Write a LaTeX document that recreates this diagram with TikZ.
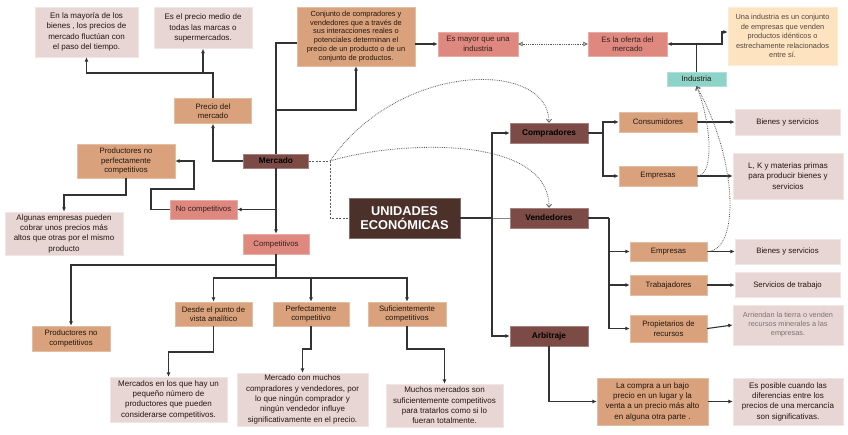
\documentclass[tikz,border=0pt]{standalone}
\usepackage{fontspec}
\setmainfont{Liberation Sans}
\usetikzlibrary{arrows.meta,calc}
\definecolor{cTan}{HTML}{D9A27C}
\definecolor{cPink}{HTML}{E8D6D4}
\definecolor{cSalmon}{HTML}{DE8880}
\definecolor{cDark}{HTML}{7D4B45}
\definecolor{cUE}{HTML}{4B3129}
\definecolor{cTeal}{HTML}{8ED3C7}
\definecolor{cPeach}{HTML}{FEE3C1}
\definecolor{cLine}{HTML}{333333}
\definecolor{cText}{HTML}{22160F}
\tikzset{
  box/.style={rectangle, inner sep=1pt, align=center, text=cText, font=\fontsize{7.8}{9.5}\selectfont},
  tanb/.style={box, fill=cTan, draw=cTan!70!white},
  pinkb/.style={box, fill=cPink, draw=cPink!60!white},
  salb/.style={box, fill=cSalmon, draw=cSalmon!70!white, text=cText!80!cDark},
  darkb/.style={box, fill=cDark, draw=cDark!70!white, text=black, font=\fontsize{8.3}{9}\selectfont\bfseries},
  big/.style={font=\fontsize{8}{10.3}\selectfont},
  conn/.style={draw=cLine, line width=1.1pt, -{Latex[length=4.5pt,width=4pt]}},
  lin/.style={draw=cLine, line width=1.1pt},
  dotc/.style={draw=cLine!80, densely dotted, line width=0.8pt},
  dashc/.style={draw=cLine!80, dash pattern=on 2pt off 1.5pt, line width=0.9pt},
}
\begin{document}
\begin{tikzpicture}[x=1pt,y=-1pt]
\useasboundingbox (0,0) rectangle (848,435);
\fill[white] (0,0) rectangle (848,435);

% ---------- top left ----------
\node[pinkb, minimum width=103pt, minimum height=50pt, big] (b1) at (86.5,32) {En la mayoría de los\\bienes , los precios de\\mercado fluctúan con\\el paso del tiempo.};
\node[pinkb, minimum width=98pt, minimum height=41pt, big] (b2) at (203,28) {Es el precio medio de\\todas las marcas o\\supermercados.};
\node[tanb, minimum width=77pt, minimum height=25pt] (pm) at (213,111) {Precio del\\mercado};
\node[tanb, minimum width=118pt, minimum height=59pt, font=\fontsize{7.4}{8.9}\selectfont] (cj) at (356,36.5) {Conjunto de compradores y\\vendedores que a través de\\sus interacciones reales o\\potenciales determinan el\\precio de un producto o de un\\conjunto de productos.};
\node[salb, minimum width=80pt, minimum height=24pt] (em) at (478,44) {Es mayor que una\\industria};
\node[salb, minimum width=79pt, minimum height=24pt] (eo) at (627.5,44) {Es la oferta del\\mercado};
\node[box, fill=cTeal, draw=cTeal!70!white, minimum width=59pt, minimum height=14pt] (ind) at (696.5,79) {Industria};
\node[box, fill=cPeach, draw=cPeach!70!white, minimum width=109pt, minimum height=58pt, text=cText!80, font=\fontsize{7.4}{9.5}\selectfont] (ua) at (782.5,36) {Una industria es un conjunto\\de empresas que venden\\productos idénticos o\\estrechamente relacionados\\entre sí.};

% ---------- middle ----------
\node[darkb, minimum width=65pt, minimum height=14pt] (me) at (276,161) {Mercado};
\node[tanb, minimum width=98pt, minimum height=34pt] (pnp) at (126,161) {Productores no\\perfectamente\\competitivos};
\node[salb, minimum width=67pt, minimum height=19pt] (nc) at (203.5,209.5) {No competitivos};
\node[pinkb, minimum width=118pt, minimum height=43pt, big] (alg) at (64,233.5) {Algunas empresas pueden\\cobrar unos precios más\\altos que otras por el mismo\\producto};
\node[salb, minimum width=66pt, minimum height=20pt] (comp) at (276,244) {Competitivos};
\node[box, fill=cUE, draw=cUE!70!white, minimum width=111pt, minimum height=40pt, text=white, font=\fontsize{12.8}{14.5}\selectfont\bfseries] (ue) at (404.5,218) {UNIDADES\\ECONÓMICAS};

% ---------- right ----------
\node[darkb, minimum width=78pt, minimum height=20pt] (co) at (549,133) {Compradores};
\node[darkb, minimum width=78pt, minimum height=20pt] (ve) at (549,218) {Vendedores};
\node[darkb, minimum width=78pt, minimum height=20pt] (ar) at (549,336) {Arbitraje};
\node[tanb, minimum width=78pt, minimum height=20pt] (cons) at (658,122) {Consumidores};
\node[tanb, minimum width=78pt, minimum height=20pt] (emp1) at (658,176) {Empresas};
\node[pinkb, minimum width=105pt, minimum height=26pt] (bys1) at (787.5,122) {Bienes y servicios};
\node[pinkb, minimum width=110pt, minimum height=46pt, big] (lk) at (788,176) {L, K y materias primas\\para producir bienes y\\servicios};
\node[tanb, minimum width=77pt, minimum height=19pt] (emp2) at (668.5,251.5) {Empresas};
\node[pinkb, minimum width=105pt, minimum height=25pt] (bys2) at (787.5,251.5) {Bienes y servicios};
\node[tanb, minimum width=77pt, minimum height=20pt] (tra) at (668.5,285) {Trabajadores};
\node[pinkb, minimum width=105pt, minimum height=25pt] (st) at (787.5,285) {Servicios de trabajo};
\node[tanb, minimum width=77pt, minimum height=27pt] (pro) at (668.5,328.5) {Propietarios de\\recursos};
\node[pinkb, minimum width=110pt, minimum height=40pt, text=cText!60, font=\fontsize{7.3}{9}\selectfont] (arr) at (788,325) {Arriendan la tierra o venden\\recursos minerales a las\\empresas.};
\node[tanb, minimum width=111pt, minimum height=47pt, big] (lc) at (652.5,401.5) {La compra a un bajo\\precio en un lugar y la\\venta a un precio más alto\\en alguna otra parte .};
\node[pinkb, minimum width=110pt, minimum height=47pt, big] (ep) at (788,401.5) {Es posible cuando las\\diferencias entre los\\precios de una mercancía\\son significativas.};

% ---------- bottom left ----------
\node[tanb, minimum width=78pt, minimum height=25pt] (pnc) at (71,338.5) {Productores no\\competitivos};
\node[tanb, minimum width=77pt, minimum height=24pt] (desde) at (213.5,314) {Desde el punto de\\vista analítico};
\node[tanb, minimum width=76pt, minimum height=24pt] (perf) at (311,314) {Perfectamente\\competitivo};
\node[tanb, minimum width=78pt, minimum height=24pt] (suf) at (407,314) {Suficientemente\\competitivos};
\node[pinkb, minimum width=117pt, minimum height=45pt, big] (mer1) at (168.5,399.5) {Mercados en los que hay un\\pequeño número de\\productores que pueden\\considerarse competitivos.};
\node[pinkb, minimum width=131pt, minimum height=53pt, big] (mer2) at (302.5,399.5) {Mercado con muchos\\compradores y vendedores, por\\lo que ningún comprador y\\ningún vendedor influye\\significativamente en el precio.};
\node[pinkb, minimum width=117pt, minimum height=43pt, big] (mer3) at (444.5,405.5) {Muchos mercados son\\suficientemente competitivos\\para tratarlos como si lo\\fueran totalmente.};

% ---------- junction coordinates ----------
\coordinate (j1) at (213,73);
\coordinate (j2) at (203,73);
\coordinate (j3) at (276,43);
\coordinate (j4) at (276,110);
\coordinate (j5) at (696.5,44);
\coordinate (j6) at (722,32);
\coordinate (j7) at (330,161);
\coordinate (j8) at (492,218);
\coordinate (j9) at (603,133);
\coordinate (j10) at (609,218);
\coordinate (j11) at (276,209.5);
\coordinate (j12) at (151,209.5);
\coordinate (j13) at (194,189);
\coordinate (j14) at (126,195);
\coordinate (j15) at (276,265);
\coordinate (j16) at (276,278);
\coordinate (j17) at (311,278);
\coordinate (j18) at (213.5,352);
\coordinate (j19) at (311,349);
\coordinate (j20) at (407,349);

% ---------- connectors ----------
\draw[conn] (pm.north) -- (j1) -| (b1.south);
\draw[conn] (j2) -- (b2.south);
\draw[conn] (me.west) -| (pm.south);
\draw[lin] (me.north) -- (j3) -- (cj.west |- j3);
\draw[conn] (j4) -| (cj.south);
\draw[conn] (cj.east |- em.west) -- (em.west);
\draw[dotc, {Triangle[open,length=4.5pt,width=4.5pt]}-{Triangle[open,length=4.5pt,width=4.5pt]}] (em.east) -- (eo.west);
\draw[conn] (ind.north) |- (eo.east);
\draw[conn] (j5) -| (j6) -- (ua.west |- j6);

\draw[dashc] (me.east) -- (j7) |- (ue.west);
\draw[dotc, -{Straight Barb[length=3pt,width=5pt]}] (j7) .. controls (400,60) and (549,60) .. (co.north);
\draw[dotc, -{Straight Barb[length=3pt,width=5pt]}] (j7) .. controls (400,140) and (549,135) .. (ve.north);

\draw[lin] (ue.east) -- (j8);
\draw[lin, draw=cLine!60, line width=0.6pt] (j8) -- (ve.west);
\draw[conn] (j8) |- (co.west);
\draw[conn] (j8) |- (ar.west);

\draw[lin] (co.east) -- (j9);
\draw[conn] (j9) |- (cons.west);
\draw[conn] (j9) |- (emp1.west);
\draw[conn] (cons.east) -- (bys1.west);
\draw[conn] (emp1.east) -- (lk.west);

\draw[lin] (ve.east) -- (j10);
\draw[conn] (j10) |- (emp2.west);
\draw[conn] (j10) |- (tra.west);
\draw[conn] (j10) |- (pro.west);
\draw[conn] (emp2.east) -- (bys2.west);
\draw[conn] (tra.east) -- (st.west);
\draw[conn] (pro.east) -- (arr.west);

\draw[conn] (ar.south) |- (lc.west);
\draw[conn] (lc.east) -- (ep.west);

\draw[dotc, -{Straight Barb[length=3pt,width=5pt]}] (emp1.east) .. controls (714,176) and (712,125) .. (ind.south);
\draw[dotc, -{Straight Barb[length=3pt,width=5pt]}] (emp2.east) .. controls (740,251) and (738,160) .. (ind.south);

\draw[conn] (me.south) -- (comp.north);
\draw[conn] (j11) -- (nc.east);
\draw[conn] (nc.west) -- (j12) |- (j13) |- (pnp.east);
\draw[conn] (pnp.south) -- (j14) -| (alg.north);

\draw[conn] (comp.south) -- (j15) -| (pnc.north);
\draw[lin] (j15) -- (j16);
\draw[conn] (j16) -| (desde.north);
\draw[conn] (j16) -| (suf.north);
\draw[conn] (j17) -- (perf.north);
\draw[conn] (desde.south) -- (j18) -| (mer1.north);
\draw[conn] (perf.south) -- (j19) -| (mer2.north);
\draw[conn] (suf.south) -- (j20) -| (mer3.north);
\end{tikzpicture}
\end{document}
